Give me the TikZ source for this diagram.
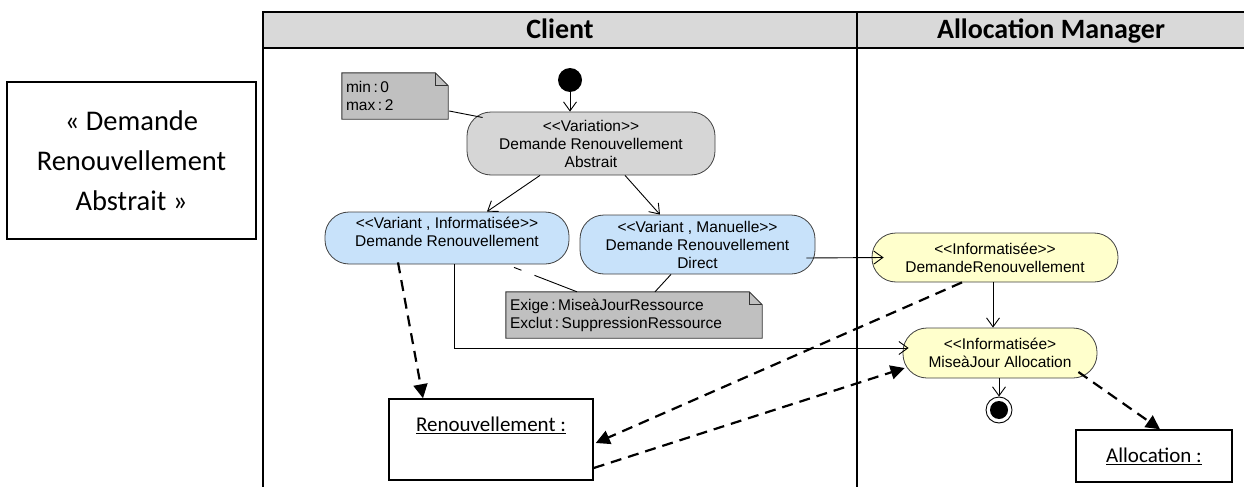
\documentclass[tikz,border=0pt]{standalone}
\usepackage{fontspec}
\setmainfont{Carlito}
\newfontfamily\arial{Liberation Sans}
\usetikzlibrary{arrows.meta,calc,backgrounds}
\definecolor{hdr}{HTML}{D9D9D9}
\definecolor{actgray}{HTML}{D6D6D6}
\definecolor{notegray}{HTML}{C0C0C0}
\definecolor{actblue}{HTML}{C8E2FA}
\definecolor{actyellow}{HTML}{FFFFCC}
\begin{document}
\begin{tikzpicture}[x=1pt,y=-1pt,
  frameline/.style={line width=2.2pt},
  hdrtext/.style={font=\bfseries\fontsize{28}{30}\selectfont, text height=20pt, text depth=6pt},
  act/.style={draw=black!75, line width=0.8pt, rounded corners=24pt, inner sep=0pt,
    align=center, font=\arial\fontsize{15.5}{18}\selectfont},
  notebox/.style={inner sep=4pt, align=left, font=\arial\fontsize{15.5}{18}\selectfont},
  objbox/.style={draw, line width=1.5pt, inner sep=0pt},
  objtext/.style={font=\fontsize{21}{23}\selectfont},
  open/.style={line width=0.9pt, -{Straight Barb[length=9pt,width=13pt,line width=0.9pt]}},
  flow/.style={line width=2.2pt, dash pattern=on 11pt off 7pt, -{Triangle[length=14pt,width=14pt]}},
  anno/.style={line width=0.9pt}
]
\useasboundingbox (0,0) rectangle (1244,487);

% swimlanes
\fill[hdr] (263,12) rectangle (1244,48);
\draw[frameline] (1244,12) -- (263,12) -- (263,487);
\draw[frameline] (263,48) -- (1244,48);
\draw[frameline] (857,12) -- (857,487);
\node[hdrtext] (hclient) at (560,31) {Client};
\node[hdrtext] (halloc) at (1051,31) {Allocation Manager};

% title box
\node[draw, line width=1.5pt, minimum width=249pt, minimum height=157pt, inner sep=0pt,
  align=center, font=\fontsize{28.5}{40}\selectfont] (title) at (131.5,160.5)
  {« Demande\\Renouvellement\\Abstrait »};

% activities
\node[act, fill=actgray, minimum width=248pt, minimum height=63pt] (var) at (591,143.5)
  {<{}<Variation>{}>\\Demande Renouvellement\\Abstrait};
\node[act, fill=actblue, minimum width=244pt, minimum height=52pt] (bl) at (447,238)
  {<{}<Variant , Informatisée>{}>\\Demande Renouvellement\\[-5pt]\mbox{}};
\node[act, fill=actblue, minimum width=235pt, minimum height=59pt] (br) at (697.5,244.5)
  {<{}<Variant , Manuelle>{}>\\Demande Renouvellement\\Direct};
\node[act, fill=actyellow, minimum width=246pt, minimum height=49pt] (y1) at (995,257.5)
  {<{}<Informatisée>{}>\\DemandeRenouvellement};
\node[act, fill=actyellow, minimum width=194pt, minimum height=50pt] (y2) at (1000,353)
  {<{}<Informatisée>\\MiseàJour Allocation};

% initial / final
\node[circle, fill, minimum size=24pt, inner sep=0pt] (init) at (570,80) {};
\node[circle, draw, line width=0.9pt, minimum size=26pt, inner sep=0pt] (fin) at (999,410) {};
\fill (fin.center) circle (9pt);

% notes
\node[notebox, minimum width=106pt, minimum height=46pt, text width=98pt] (n1) at (395,96)
  {min\,:\,0\\max\,:\,2};
\node[notebox, minimum width=256pt, minimum height=46pt, text width=248pt] (n2) at (634,315)
  {Exige\,:\,MiseàJourRessource\\Exclut\,:\,SuppressionRessource};
\begin{pgfonlayer}{background}
\foreach \n in {n1,n2}{
  \filldraw[fill=notegray, draw=black!80, line width=0.9pt]
    (\n.south west) -- (\n.north west) -- ($(\n.north east)+(-13,0)$)
    -- ($(\n.north east)+(0,13)$) -- (\n.south east) -- cycle;
  \draw[black!80, line width=0.7pt] ($(\n.north east)+(-13,0)$) -- ($(\n.north east)+(-13,13)$) -- ($(\n.north east)+(0,13)$);
}
\end{pgfonlayer}

% objects
\node[objbox, minimum width=204pt, minimum height=81pt,
  label={[objtext, yshift=14.5pt]center:\underline{Renouvellement :}}] (ren) at (491,439.5) {};
\node[objbox, objtext, minimum width=156pt, minimum height=52pt] (alloc) at (1154,456)
  {\underline{Allocation :}};

% control flows
\draw[open] (init.south) -- (init.south |- var.north);
\draw[open] ([xshift=-51pt]var.south) -- ([xshift=40pt]bl.north);
\draw[open] ([xshift=34pt]var.south) -- ([xshift=-37.5pt]br.north);
\draw[open] ($(br.east)+(-9,13.5)$) -- ($(y1.west)+(12,0)$);
\draw[open] ($(bl.south)+(7,0)$) |- ($(y2.west)+(6,-5)$);
\draw[open] ($(y1.south)+(-2,0)$) -- ($(y2.north)+(-7,0)$);
\draw[open] ($(y2.south)+(-1,0)$) -- (fin.north);

% annotation links
\draw[anno] ($(n1.east)+(1,15)$) -- ($(var.west)+(16,-26)$);
\draw[anno, dash pattern=on 8pt off 14pt on 200pt] ($(bl.south)+(67,3)$) -- ($(n2.north)+(-57,0)$);
\draw[anno] ($(br.south)+(-26.5,0)$) -- ($(n2.north)+(21,0)$);

% object flows
\draw[flow] ($(bl.south)+(-49,-2)$) -- ([xshift=-68pt]ren.north);
\draw[flow] ($(y1.south)+(-33,0)$) -- ($(ren.east)+(2,3.5)$);
\draw[flow] ($(ren.east)+(0,28.5)$) -- ($(y2.west)+(2,15)$);
\draw[flow] ($(y2.east)+(-19,19)$) -- ([xshift=6pt]alloc.north);
\end{tikzpicture}
\end{document}
